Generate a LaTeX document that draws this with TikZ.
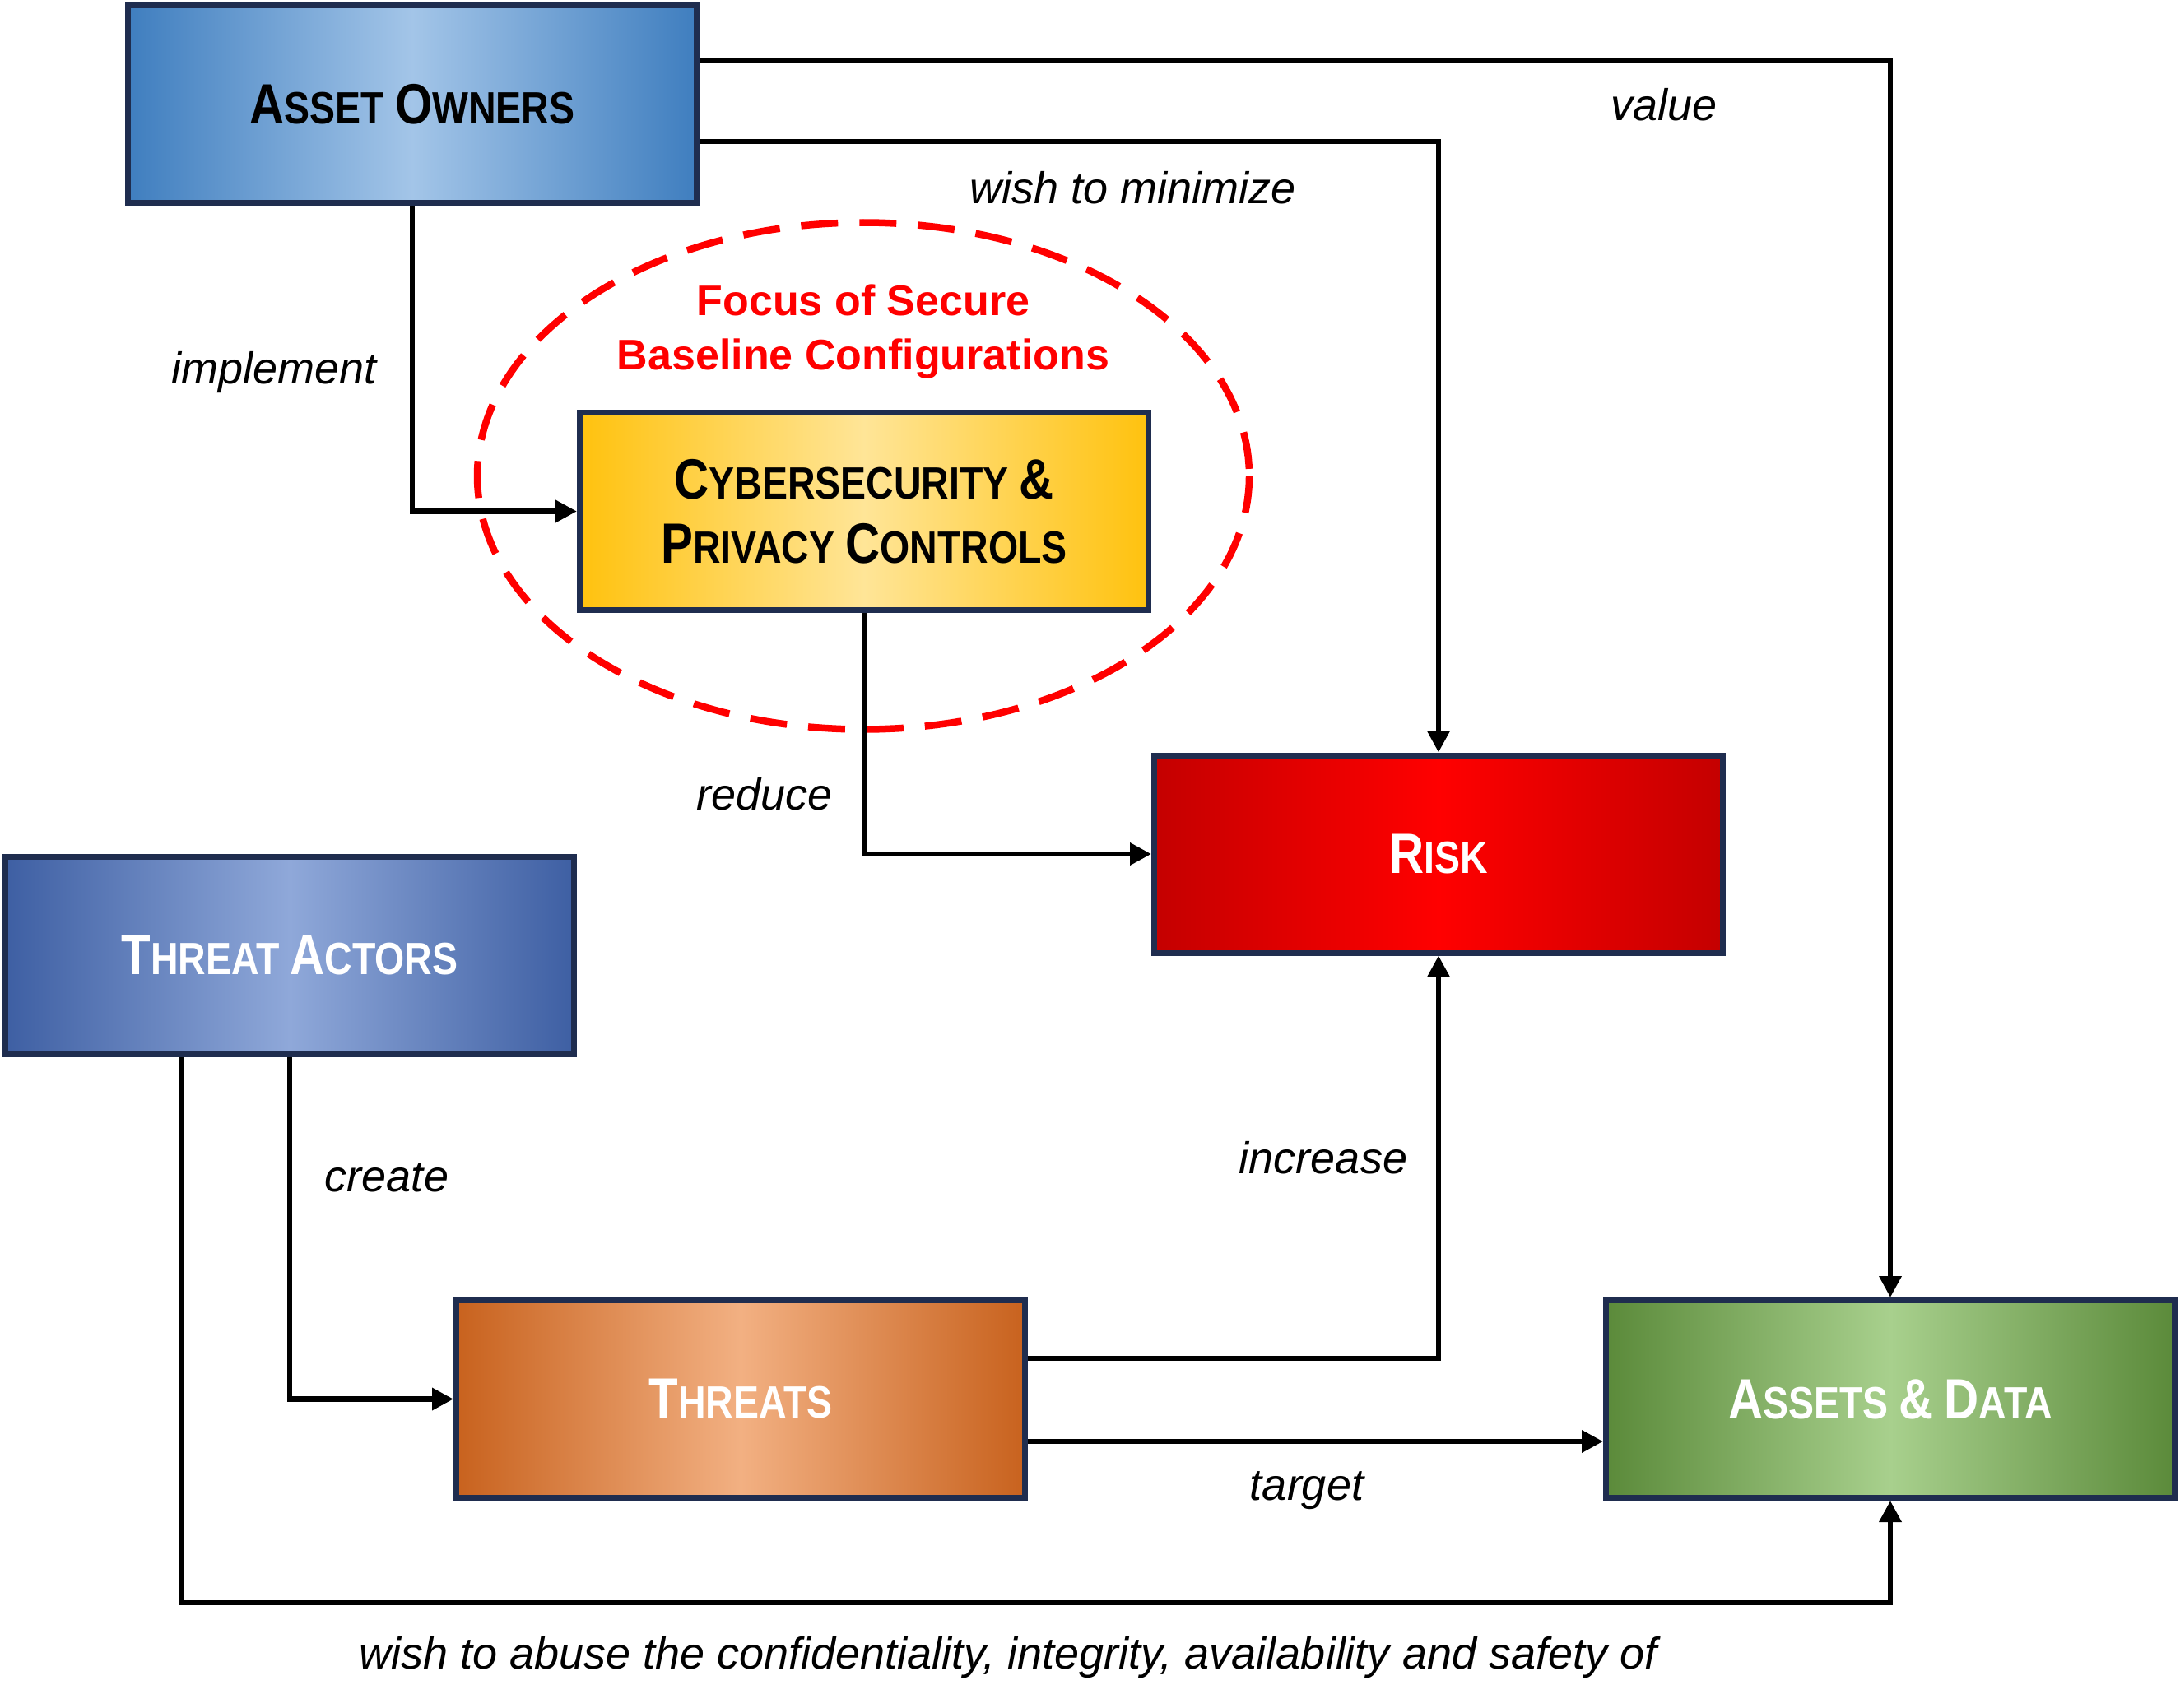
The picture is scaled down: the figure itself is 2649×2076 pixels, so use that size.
\documentclass[tikz,border=0pt]{standalone}
\usepackage{fontspec}
\usetikzlibrary{arrows.meta}
\newfontfamily\boxfont[FakeStretch=0.845]{Liberation Sans}
\newfontfamily\lblfont{Liberation Sans}
\definecolor{boxline}{HTML}{1F2D4F}
\definecolor{aoE}{HTML}{3F7EBF}\definecolor{aoC}{HTML}{A3C5E8}
\definecolor{ctE}{HTML}{FFC20E}\definecolor{ctC}{HTML}{FFE597}
\definecolor{rkE}{HTML}{C40000}\definecolor{rkC}{HTML}{FF0000}
\definecolor{taE}{HTML}{3E5FA3}\definecolor{taC}{HTML}{8FA8D9}
\definecolor{thE}{HTML}{C8621E}\definecolor{thC}{HTML}{F2B082}
\definecolor{adE}{HTML}{5B8A3A}\definecolor{adC}{HTML}{A8D08D}
\definecolor{focusred}{HTML}{FF0000}
\newcommand\smcap[2]{{\fontsize{69}{78}\selectfont #1}{\fontsize{55}{78}\selectfont #2}}
\newcommand\bigamp{{\fontsize{69}{78}\selectfont\&}}
\tikzset{
  box/.style={draw=boxline, line width=7pt, minimum width=691pt, minimum height=240pt,
    inner sep=0pt, align=center, font=\boxfont\bfseries\fontsize{55}{78}\selectfont},
  shadebox/.style 2 args={left color=#1, right color=#1, middle color=#2},
  conn/.style={line width=6.5pt, -{Triangle[length=26pt,width=26pt]}},
  lbl/.style={font=\lblfont\itshape\fontsize{54}{64}\selectfont, inner sep=0pt},
  focus/.style={font=\lblfont\bfseries\fontsize{52}{66}\selectfont, text=focusred, inner sep=0pt}
}
\begin{document}
\begin{tikzpicture}[x=1pt,y=-1pt]
\useasboundingbox (0,0) rectangle (2649,2076);
% dashed ellipse
\draw[focusred, line width=8.5pt, dash pattern=on 45pt off 26pt] (1049,578.5) ellipse [x radius=469, y radius=308];
% boxes
\node[box, shadebox={aoE}{aoC}] (AO) at (501,126.5) {\smcap{A}{SSET}\ \smcap{O}{WNERS}};
\node[box, shadebox={ctE}{ctC}] (CT) at (1050,621.5) {\smcap{C}{YBERSECURITY}\ \bigamp\\\smcap{P}{RIVACY}\ \smcap{C}{ONTROLS}};
\node[box, shadebox={rkE}{rkC}, text=white] (RK) at (1748,1038) {\smcap{R}{ISK}};
\node[box, shadebox={taE}{taC}, text=white] (TA) at (352,1161.5) {\smcap{T}{HREAT}\ \smcap{A}{CTORS}};
\node[box, shadebox={thE}{thC}, text=white] (TH) at (900,1700.5) {\smcap{T}{HREATS}};
\node[box, shadebox={adE}{adC}, text=white] (AD) at (2297,1700.5) {\smcap{A}{SSETS}\ \bigamp\ \smcap{D}{ATA}};
% focus text
\node[focus] (F1) at (1049,365) {Focus of Secure};
\node[focus] (F2) at (1049,436) {Baseline Configurations};
% connectors
\coordinate (abuse) at (1225,1948);
\draw[conn] (AO.south) |- (CT.west);
\draw[conn] ([yshift=-45.5pt]AO.east) -| (RK.north);
\draw[conn] ([yshift=53.5pt]AO.east) -| (AD.north);
\draw[conn] (CT.south) |- (RK.west);
\draw[conn] (TA.south) |- (TH.west);
\draw[conn] ([xshift=-131pt]TA.south) |- (abuse) -| (AD.south);
\draw[conn] ([yshift=49.5pt]TH.east) -| (RK.south);
\draw[conn] ([yshift=-51.5pt]TH.east) -- ([yshift=-51.5pt]AD.west);
% labels
\node[lbl] (Limp) at (333,453) {implement};
\node[lbl] (Lmin) at (1377,228) {wish to minimize};
\node[lbl] (Lval) at (2022,127) {value};
\node[lbl] (Lred) at (929,965) {reduce};
\node[lbl] (Lcre) at (470,1431) {create};
\node[lbl] (Linc) at (1608,1407) {increase};
\node[lbl] (Ltar) at (1588,1812) {target};
\node[lbl] (Labu) at (1225,2015) {wish to abuse the confidentiality, integrity, availability and safety of};
\end{tikzpicture}
\end{document}
